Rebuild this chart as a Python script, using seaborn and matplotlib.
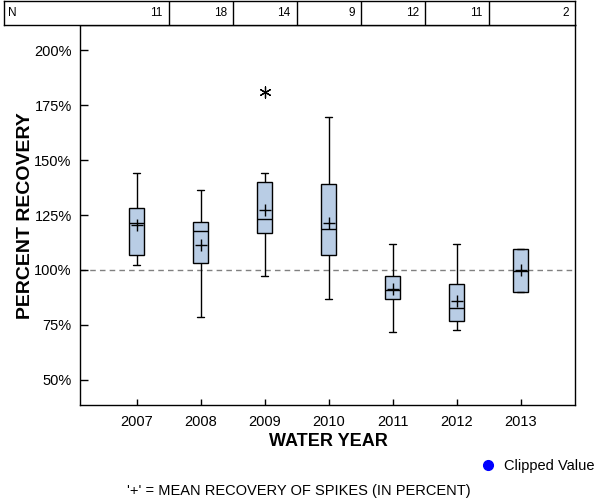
import numpy as np
import pandas as pd
import seaborn as sns
import matplotlib
matplotlib.use("Agg")
import matplotlib.pyplot as plt
from matplotlib.lines import Line2D
from matplotlib.ticker import FuncFormatter

# ---- data ----
years = ["2007", "2008", "2009", "2010", "2011", "2012", "2013"]
n_counts = [11, 18, 14, 9, 12, 11, 2]
whisker_low = [102.1, 78.5, 97.1, 86.7, 71.7, 72.5, 90.0]
q1 = [106.7, 103.2, 116.7, 106.7, 86.7, 76.8, 90.0]
median = [121.2, 117.6, 123.0, 118.5, 91.1, 82.6, 99.7]
q3 = [128.0, 122.0, 140.1, 139.2, 97.4, 93.6, 109.7]
whisker_high = [144.0, 136.2, 144.2, 169.7, 111.7, 111.7, 109.7]
means = [120.6, 111.5, 127.4, 121.5, 91.4, 85.9, 99.8]
outlier_years = ["2009"]
outlier_values = [180.8]
y_ticks = [50, 75, 100, 125, 150, 175, 200]

rows = []
for i, yr in enumerate(years):
    for v in (whisker_low[i], q1[i], median[i], q3[i], whisker_high[i]):
        rows.append({"year": yr, "value": v})
df = pd.DataFrame(rows)

sns.set_style("ticks")
plt.rcParams["font.family"] = ["Liberation Sans", "DejaVu Sans"]
plt.rcParams["text.color"] = "black"
plt.rcParams["axes.labelcolor"] = "black"

W, H = 600, 500
fig = plt.figure(figsize=(6, 5), dpi=100)
ax = fig.add_axes([80 / W, 1 - 405 / H, 495 / W, 380 / H])

sns.boxplot(data=df, x="year", y="value", order=years, width=0.23,
            color="#B9CDE5", saturation=1, linecolor="black", linewidth=1,
            whis=(0, 100), showfliers=False, ax=ax,
            medianprops=dict(color="black", linewidth=1))

sns.stripplot(x=years, y=means, order=years, jitter=False, marker="+",
              size=9, color="black", linewidth=1, ax=ax)
sns.stripplot(x=outlier_years, y=outlier_values, order=years, jitter=False,
              marker=(6, 2, 0), size=8, color="black", linewidth=0.9, ax=ax)

ax.axhline(100, color="#808080", ls=(0, (4, 3)), lw=1, zorder=0.5)

xlim = (-0.886, 6.848)
ax.set_xlim(*xlim)
ax.set_ylim(38.6, 211.4)
ax.set_yticks(y_ticks)
ax.yaxis.set_major_formatter(FuncFormatter(lambda v, p: f"{v:.0f}%"))
ax.set_xticks(range(len(years)))
ax.set_xticklabels(years)
ax.tick_params(axis="y", direction="in", length=6, width=1, pad=6,
               labelsize=10.5, colors="black")
ax.tick_params(axis="x", direction="in", length=4, width=1, pad=7,
               labelsize=10.5, colors="black")
ax.set_xlabel("")
ax.set_ylabel("")
for s in ax.spines.values():
    s.set_visible(True)
    s.set_color("black")
    s.set_linewidth(1)

# ---- N table on top ----
tab = fig.add_axes([4 / W, 1 - 25 / H, 571 / W, 24 / H])
tab_left = xlim[0] - 76 / 64.0
tab.set_xlim(tab_left, xlim[1])
tab.set_ylim(0, 1)
tab.set_xticks([])
tab.set_yticks([])
for s in tab.spines.values():
    s.set_color("black")
    s.set_linewidth(1)
for i in range(len(years) - 1):
    tab.axvline(i + 0.5, color="black", lw=1)
tab.text(tab_left + 4 / 64.0, 0.48, "N", ha="left", va="center", fontsize=8.5)
for i, n in enumerate(n_counts):
    right = i + 0.5 if i < len(years) - 1 else xlim[1]
    tab.text(right - 6 / 64.0, 0.48, str(n), ha="right", va="center", fontsize=8.5)

# ---- labels ----
fig.text(328 / W, 1 - 442 / H, "WATER YEAR", ha="center", va="center",
         fontsize=13, fontweight="bold")
fig.text(26 / W, 1 - 216 / H, "PERCENT RECOVERY", ha="center", va="center",
         rotation=90, fontsize=14, fontweight="bold")
fig.text(299 / W, 1 - 491 / H, "'+' = MEAN RECOVERY OF SPIKES (IN PERCENT)",
         ha="center", va="center", fontsize=10.5)

fig.add_artist(Line2D([488 / W], [1 - 465 / H], marker="o", color="blue",
                      markersize=7, ls="", transform=fig.transFigure))
fig.text(504 / W, 1 - 466 / H, "Clipped Value", ha="left", va="center",
         fontsize=10.5)

fig.savefig("out.png", dpi=100)
